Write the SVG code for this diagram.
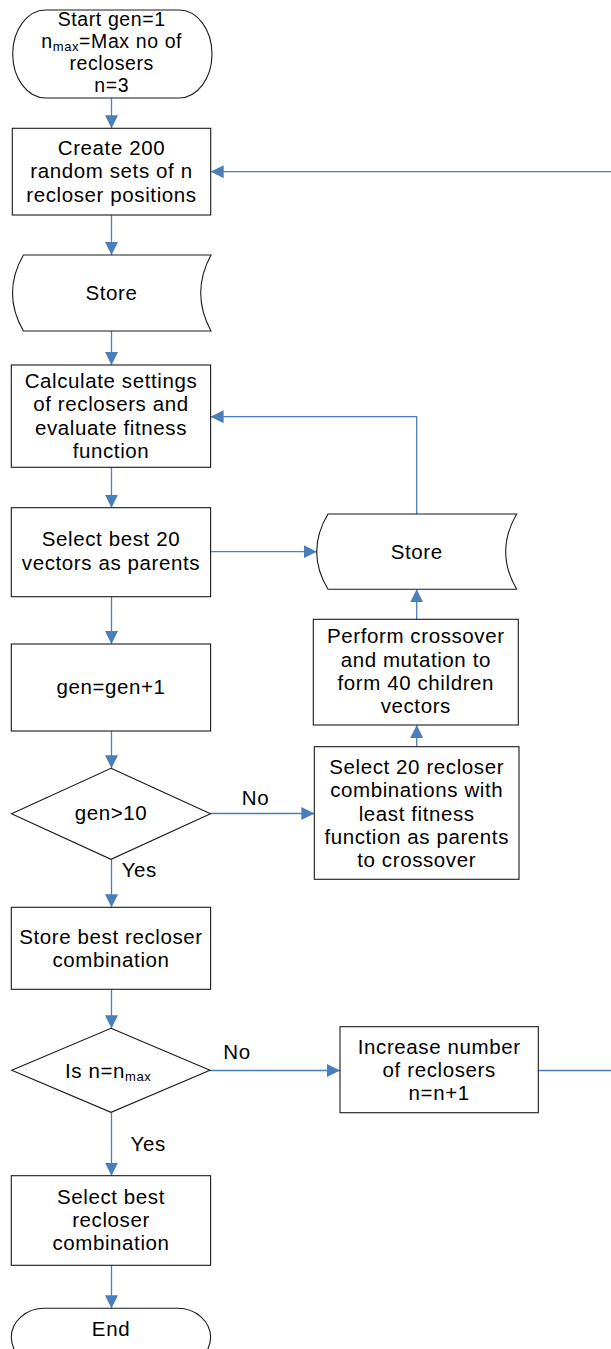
<svg xmlns="http://www.w3.org/2000/svg" width="611" height="1349" viewBox="0 0 611 1349">
<style>
.s{fill:#fff;stroke:#1a1a1a;stroke-width:1.1}
.c{fill:none;stroke:#4a7ebb;stroke-width:1.3}
text{font-family:"Liberation Sans",Arial,sans-serif;font-size:20.5px;letter-spacing:0.6px;fill:#000}
.m{text-anchor:middle}
.sub{font-size:13px}
.st{font-size:19.5px}
</style>
<defs>
<marker id="a" markerUnits="userSpaceOnUse" markerWidth="13" markerHeight="13" viewBox="0 0 12 12" refX="12" refY="6" orient="auto">
<path d="M0,0 L12,6 L0,12 Z" fill="#4a7ebb"/>
</marker>
</defs>
<rect width="611" height="1349" fill="#fff"/>
<g id="connectors">
<path class="c" d="M111.5,98 V128.3" marker-end="url(#a)"/>
<path class="c" d="M111.5,215 V255" marker-end="url(#a)"/>
<path class="c" d="M111.5,331 V365" marker-end="url(#a)"/>
<path class="c" d="M111.5,467.3 V507.7" marker-end="url(#a)"/>
<path class="c" d="M210.6,551.7 H316.7" marker-end="url(#a)"/>
<path class="c" d="M416.7,514 V416.7 H210.6" marker-end="url(#a)"/>
<path class="c" d="M111.5,596.7 V644" marker-end="url(#a)"/>
<path class="c" d="M111.5,731 V768.3" marker-end="url(#a)"/>
<path class="c" d="M210.5,813.5 H314.3" marker-end="url(#a)"/>
<path class="c" d="M416.7,746.7 V725" marker-end="url(#a)"/>
<path class="c" d="M416.7,619.3 V589.3" marker-end="url(#a)"/>
<path class="c" d="M111.5,859.3 V907.3" marker-end="url(#a)"/>
<path class="c" d="M111.5,989.3 V1028.3" marker-end="url(#a)"/>
<path class="c" d="M210,1070.5 H340" marker-end="url(#a)"/>
<path class="c" d="M538.3,1070.5 H616 V171.7 H210.7" marker-end="url(#a)"/>
<path class="c" d="M111.5,1112.3 V1175.7" marker-end="url(#a)"/>
<path class="c" d="M111.5,1265.3 V1308.3" marker-end="url(#a)"/>
<text x="255.5" y="805" class="m">No</text>
<text x="121.7" y="877">Yes</text>
<text x="237" y="1058.5" class="m">No</text>
<text x="130.6" y="1151">Yes</text>
</g>
<g id="start">
<rect class="s" x="12.7" y="10" width="199.3" height="88" rx="33" ry="44"/>
<text class="m st"><tspan x="111.7" y="26">Start gen=1</tspan><tspan x="111.7" y="48">n<tspan class="sub" dy="3">max</tspan><tspan dy="-3">=Max no of</tspan></tspan><tspan x="111.7" y="70">reclosers</tspan><tspan x="111.7" y="92">n=3</tspan></text>
</g>
<g id="create">
<rect class="s" x="12.3" y="128.3" width="198.4" height="86.7"/>
<text class="m"><tspan x="111.5" y="155">Create 200</tspan><tspan x="111.5" y="178.3">random sets of n</tspan><tspan x="111.5" y="201.7">recloser positions</tspan></text>
</g>
<g id="store1">
<path class="s" d="M23.4,255 H211 Q190.4,293 211,331 H23.4 Q1.6,293 23.4,255 Z"/>
<text class="m" x="111.5" y="299.5">Store</text>
</g>
<g id="calc">
<rect class="s" x="11.3" y="365" width="199.3" height="102.3"/>
<text class="m"><tspan x="111" y="387.5">Calculate settings</tspan><tspan x="111" y="411">of reclosers and</tspan><tspan x="111" y="434.5">evaluate fitness</tspan><tspan x="111" y="457.5">function</tspan></text>
</g>
<g id="selectbest20">
<rect class="s" x="11.3" y="507.7" width="199.3" height="89"/>
<text class="m"><tspan x="111" y="546">Select best 20</tspan><tspan x="111" y="570">vectors as parents</tspan></text>
</g>
<g id="store2">
<path class="s" d="M328,514 H516.7 Q494.7,551.7 516.7,589.3 H328 Q305.4,551.7 328,514 Z"/>
<text class="m" x="416.7" y="558.5">Store</text>
</g>
<g id="perform">
<rect class="s" x="313.3" y="619.3" width="205" height="105.7"/>
<text class="m"><tspan x="415.8" y="643">Perform crossover</tspan><tspan x="415.8" y="667">and mutation to</tspan><tspan x="415.8" y="690">form 40 children</tspan><tspan x="415.8" y="713">vectors</tspan></text>
</g>
<g id="genbox">
<rect class="s" x="11.3" y="644" width="199.3" height="87"/>
<text class="m" x="111" y="694">gen=gen+1</text>
</g>
<g id="select20">
<rect class="s" x="314.3" y="746.7" width="204.7" height="132.6"/>
<text class="m"><tspan x="416.7" y="773.5">Select 20 recloser</tspan><tspan x="416.7" y="797">combinations with</tspan><tspan x="416.7" y="820.5">least fitness</tspan><tspan x="416.7" y="843.5">function as parents</tspan><tspan x="416.7" y="867">to crossover</tspan></text>
</g>
<g id="gen10">
<path class="s" d="M111,768.3 L210.5,813.8 L111,859.3 L11.5,813.8 Z"/>
<text class="m" x="111" y="820">gen&gt;10</text>
</g>
<g id="storebest">
<rect class="s" x="11.3" y="907.3" width="199.3" height="82"/>
<text class="m"><tspan x="111" y="943.5">Store best recloser</tspan><tspan x="111" y="967">combination</tspan></text>
</g>
<g id="isnmax">
<path class="s" d="M111,1028.3 L210,1070.3 L111,1112.3 L11.7,1070.3 Z"/>
<text x="65" y="1077.5">Is n=n<tspan class="sub" dy="3">max</tspan></text>
</g>
<g id="increase">
<rect class="s" x="340" y="1026.7" width="198.3" height="86"/>
<text class="m"><tspan x="439.2" y="1053.5">Increase number</tspan><tspan x="439.2" y="1076.5">of reclosers</tspan><tspan x="439.2" y="1099.5">n=n+1</tspan></text>
</g>
<g id="selectfinal">
<rect class="s" x="11.3" y="1175.7" width="199.3" height="89.6"/>
<text class="m"><tspan x="111" y="1203.5">Select best</tspan><tspan x="111" y="1227">recloser</tspan><tspan x="111" y="1250">combination</tspan></text>
</g>
<g id="end">
<rect class="s" x="11.3" y="1308.3" width="199.3" height="58" rx="33" ry="29"/>
<text class="m" x="111" y="1336">End</text>
</g>
</svg>
